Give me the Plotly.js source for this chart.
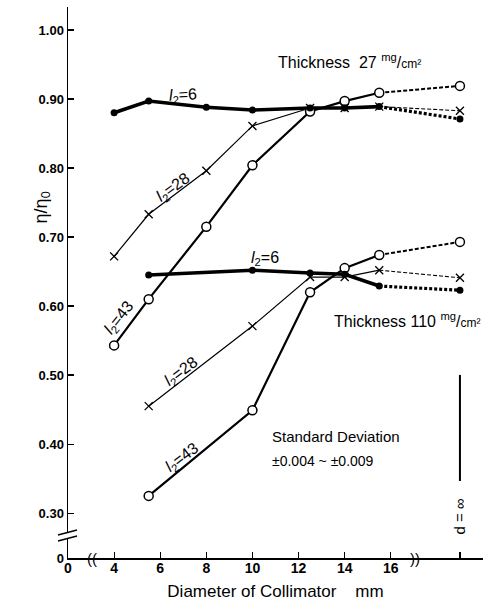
<!DOCTYPE html>
<html>
<head>
<meta charset="utf-8">
<script src="https://cdn.plot.ly/plotly-3.0.1.min.js"></script>
<style>
  html, body { margin: 0; padding: 0; background: #fff; }
  #chart { width: 490px; height: 609px; }
</style>
</head>
<body>
<div id="chart"></div>
<script>
// ---- Data ----
// Collimator diameters (mm); Infinity = d = ∞
const diam27 = [4, 5.5, 8, 10, 12.5, 14, 15.5, Infinity];
const diam110 = [5.5, 10, 12.5, 14, 15.5, Infinity];

// Thickness 27 mg/cm²
const t27_l6  = [0.880, 0.897, 0.888, 0.884, 0.887, 0.887, 0.889, 0.871];
const t27_l28 = [0.672, 0.733, 0.796, 0.861, 0.887, 0.887, 0.889, 0.883];
const t27_l43 = [0.543, 0.610, 0.715, 0.804, 0.882, 0.897, 0.909, 0.919];

// Thickness 110 mg/cm²
const t110_l6  = [0.645, 0.652, 0.648, 0.646, 0.629, 0.623];
const t110_l28 = [0.455, 0.571, 0.642, 0.642, 0.652, 0.641];
const t110_l43 = [0.325, 0.449, 0.620, 0.655, 0.674, 0.693];

// Axis ticks
const xTickLabels = ['0', '4', '6', '8', '10', '12', '14', '16', ''];
const xTickDiam   = [0, 4, 6, 8, 10, 12, 14, 16, Infinity];
const yTickLabels = ['0', '0.30', '0.40', '0.50', '0.60', '0.70', '0.80', '0.90', '1.00'];
const yTickVals   = [0, 0.30, 0.40, 0.50, 0.60, 0.70, 0.80, 0.90, 1.00];

// ---- Broken-axis mapping ----
const X_ZERO_POS = 2, X_INF_POS = 19;
const Y_ZERO_POS = 0.235;
function xpos(d) { return d === Infinity ? X_INF_POS : (d === 0 ? X_ZERO_POS : d); }
function ypos(v) { return v === 0 ? Y_ZERO_POS : v; }

const FONT = "'Liberation Sans', Arial, sans-serif";

const lineTraces = [];
const markerTraces = [];
function addSeries(xs, ys, st) {
  const px = xs.map(xpos);
  const n = px.length;
  lineTraces.push({ x: px.slice(0, n - 1), y: ys.slice(0, n - 1), mode: 'lines',
    line: { color: 'black', width: st.w }, hoverinfo: 'skip', showlegend: false });
  lineTraces.push({ x: px.slice(n - 2), y: ys.slice(n - 2), mode: 'lines',
    line: { color: 'black', width: st.dw, dash: st.dash }, hoverinfo: 'skip', showlegend: false });
  markerTraces.push({ x: px, y: ys, mode: 'markers', marker: st.marker, showlegend: false });
}

const sDot = { w: 3.6, dw: 3.2, dash: '3px,2px',
  marker: { symbol: 'circle', size: 7, color: 'black' } };
const sX = { w: 1.2, dw: 1.1, dash: '4px,2px',
  marker: { symbol: 'x-thin-open', size: 8, line: { color: 'black', width: 1.3 }, color: 'black' } };
const sO = { w: 2.2, dw: 2.0, dash: '4px,2px',
  marker: { symbol: 'circle', size: 9, color: 'white', line: { color: 'black', width: 1.5 } } };

addSeries(diam27, t27_l28, sX);
addSeries(diam27, t27_l43, sO);
addSeries(diam27, t27_l6, sDot);
addSeries(diam110, t110_l28, sX);
addSeries(diam110, t110_l43, sO);
addSeries(diam110, t110_l6, sDot);

// pixel helpers for decorations
const PXX = 23.08, PXY = 690;
function dx(px) { return 2 + (px - 68) / PXX; }
function dy(py) { return 0.235 + (558 - py) / PXY; }

const lab = (t, xp, yp, ang, extra) => Object.assign({
  text: t, x: dx(xp), y: dy(yp), xref: 'x', yref: 'y', showarrow: false,
  textangle: ang || 0, font: { family: FONT, size: 16, color: 'black' }
}, extra || {});

const l2 = (v) => "<i>l</i><sub>2</sub>=" + v;

const annotations = [
  lab("Thickness\u00A0\u00A027 <sup>mg</sup>/<span style='font-size:12px'>cm²</span>", 350, 61, 0, { font: { family: FONT, size: 16, color: 'black' } }),
  lab("Thickness 110 <sup>mg</sup>/<span style='font-size:12px'>cm²</span>", 407, 320, 0, { font: { family: FONT, size: 16, color: 'black' } }),
  lab("Standard Deviation", 270, 437, 0, { xanchor: 'left', font: { family: FONT, size: 15, color: 'black' } }),
  lab("±0.004\u00A0~\u00A0±0.009", 270, 461, 0, { xanchor: 'left', font: { family: FONT, size: 14, color: 'black' } }),
  lab("d = ∞", 460, 517, -90, { font: { family: FONT, size: 15, color: 'black' } }),
  lab(l2(6), 183, 96, -3),
  lab(l2(28), 174, 188, -36),
  lab(l2(43), 120, 318, -52),
  lab(l2(6), 265, 259, 0),
  lab(l2(28), 182, 372, -37),
  lab(l2(43), 183, 458, -37),
  lab("((", 92, 558, 0, { font: { family: FONT, size: 15, color: 'black' } }),
  lab("))", 415, 558, 0, { font: { family: FONT, size: 15, color: 'black' } }),
  { text: "η/η<sub>0</sub>", xref: 'paper', x: 0, xshift: -39, yref: 'y', y: dy(208),
    showarrow: false, textangle: -90, font: { family: FONT, size: 18, color: 'black' } }
];

const shapes = [
  // d = ∞ vertical marker line
  { type: 'line', xref: 'x', yref: 'y', x0: 19, x1: 19, y0: dy(375), y1: dy(481),
    line: { color: 'black', width: 2 } },
  // y-axis break
  { type: 'rect', xref: 'paper', xsizemode: 'pixel', xanchor: 0, x0: -3, x1: 3,
    yref: 'y', y0: dy(538.5), y1: dy(532.5), fillcolor: 'white', line: { width: 0 } },
  { type: 'line', xref: 'paper', xsizemode: 'pixel', xanchor: 0, x0: -10, x1: 9,
    yref: 'y', y0: dy(535), y1: dy(530), line: { color: 'black', width: 1.4 } },
  { type: 'line', xref: 'paper', xsizemode: 'pixel', xanchor: 0, x0: -10, x1: 9,
    yref: 'y', y0: dy(541), y1: dy(536), line: { color: 'black', width: 1.4 } }
];

const layout = {
  width: 490, height: 609,
  margin: { l: 68, r: 7, t: 7, b: 51 },
  paper_bgcolor: 'white', plot_bgcolor: 'white',
  showlegend: false,
  font: { family: FONT, color: 'black' },
  xaxis: {
    range: [2, 20], showgrid: false, zeroline: false,
    showline: true, linecolor: 'black', linewidth: 1.5,
    ticks: 'inside', ticklen: 6, tickwidth: 1.2, tickcolor: 'black',
    tickvals: xTickDiam.map(xpos), ticktext: xTickLabels,
    ticklabelstandoff: -3,
    tickfont: { family: FONT, size: 14, color: 'black', weight: 'bold' },
    title: { text: "Diameter of Collimator\u00A0\u00A0\u00A0\u00A0mm", standoff: 10,
      font: { family: FONT, size: 17, color: 'black' } }
  },
  yaxis: {
    range: [0.235, 1.0333], showgrid: false, zeroline: false,
    showline: true, linecolor: 'black', linewidth: 1.5,
    ticks: 'inside', ticklen: 6, tickwidth: 1.2, tickcolor: 'black',
    tickvals: yTickVals.map(ypos), ticktext: yTickLabels,
    tickfont: { family: FONT, size: 13, color: 'black', weight: 'bold' }
  },
  annotations: annotations,
  shapes: shapes
};

Plotly.newPlot('chart', lineTraces.concat(markerTraces), layout, { displayModeBar: false, staticPlot: true });
</script>
</body>
</html>
